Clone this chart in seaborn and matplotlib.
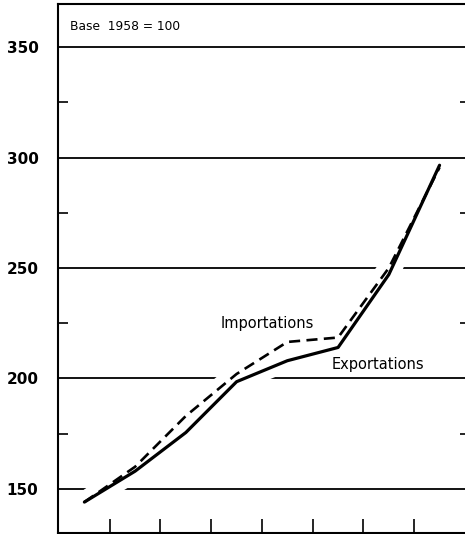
import numpy as np
import pandas as pd
import matplotlib
matplotlib.use("Agg")
import matplotlib.pyplot as plt
from matplotlib.ticker import MultipleLocator, FixedLocator
import seaborn as sns

# =========================
# DATA (index, base 1958 = 100)
# =========================
periods = [0, 1, 2, 3, 4, 5, 6, 7]
exportations = [144, 158, 175.5, 198.5, 208, 214, 247, 296.5]
importations = [144, 160, 183, 202, 216.5, 218.5, 250, 295.5]

df = pd.DataFrame({"t": periods, "Exportations": exportations, "Importations": importations})

sns.set_style("white")
plt.rcParams["font.family"] = ["DejaVu Sans"]
plt.rcParams["text.color"] = "black"
plt.rcParams["ytick.color"] = "black"

W, H = 465, 534
fig = plt.figure(figsize=(W / 100, H / 100), dpi=100)
# axes reaches a little past the right edge, as in the scan
ax = fig.add_axes([58 / W, 1 / H, (470 - 58) / W, (533 - 4) / H])

# white halo under the curves, so gridlines break where they cross
for col in ["Exportations", "Importations"]:
    sns.lineplot(data=df, x="t", y=col, ax=ax, color="white", linewidth=15,
                 solid_capstyle="butt", zorder=1.5)

sns.lineplot(data=df, x="t", y="Exportations", ax=ax, color="black",
             linewidth=2.3, zorder=3)
sns.lineplot(data=df, x="t", y="Importations", ax=ax, color="black",
             linewidth=1.9, linestyle=(0, (4.2, 2.4)), zorder=3)

ax.set_xlim(-0.52, 7.6)
ax.set_ylim(130, 369.5)

# y axis: gridlines at 50s, small inward ticks in between
ax.yaxis.set_major_locator(MultipleLocator(50))
ax.yaxis.set_minor_locator(FixedLocator([175, 225, 275, 325]))
ax.tick_params(axis="y", which="major", length=0, pad=14, labelsize=11,
               labelcolor="black")
ax.tick_params(axis="y", which="minor", direction="in", length=7, width=1.2,
               left=True, right=True, color="black")
for lab in ax.get_yticklabels():
    lab.set_fontweight("bold")
ax.yaxis.grid(True, which="major", color="black", linewidth=1.3)
ax.set_axisbelow(True)

# x axis: inward ticks between the years, no labels
ax.xaxis.set_major_locator(FixedLocator([0.5, 1.5, 2.5, 3.5, 4.5, 5.5, 6.5]))
ax.tick_params(axis="x", which="major", direction="in", length=10, width=1.2,
               labelbottom=False, bottom=True, color="black")

for side in ["left", "top", "bottom"]:
    ax.spines[side].set_color("black")
    ax.spines[side].set_linewidth(1.5)
ax.spines["right"].set_visible(False)

ax.set_xlabel("")
ax.set_ylabel("")

ax.text(0.03, 0.958, "Base  1958 = 100", transform=ax.transAxes,
        fontsize=8.8, va="center", ha="left", color="black")
ax.text(3.6, 225, "Importations", fontsize=10.5, ha="center", va="center",
        color="black")
ax.text(5.78, 206.3, "Exportations", fontsize=10.5, ha="center", va="center",
        color="black")

fig.savefig("out.png", dpi=100)
